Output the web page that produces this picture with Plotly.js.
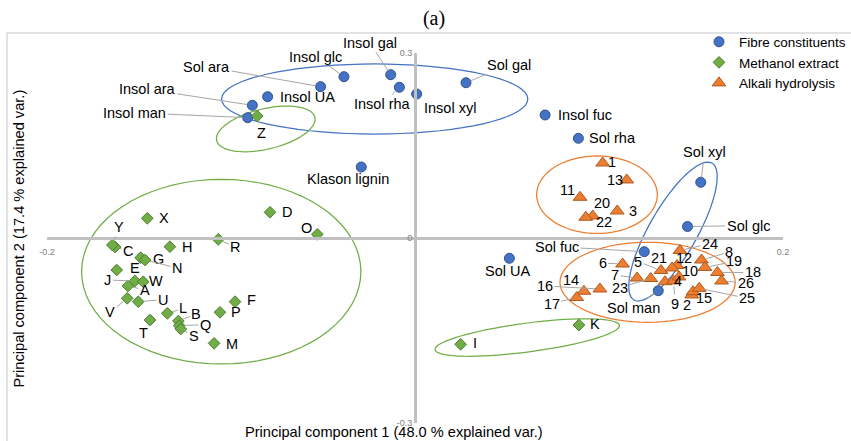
<!DOCTYPE html>
<html>
<head>
<meta charset="utf-8">
<script src="https://cdn.plot.ly/plotly-3.0.1.min.js"></script>
<style>html,body{margin:0;padding:0;background:#fff;}#chart{width:851px;height:441px;}</style>
</head>
<body>
<div id="chart"></div>
<script>
// ---------------- DATA ----------------
const fibreNames = ['Insol man','Insol ara','Insol UA','Sol ara','Insol glc','Insol gal','Insol rha','Insol xyl','Sol gal','Klason lignin','Insol fuc','Sol rha','Sol xyl','Sol glc','Sol fuc','Sol UA','Sol man'];
const fibrePC1 = [-0.0909,-0.0884,-0.0801,-0.0513,-0.0386,-0.0132,-0.0085,0.0009,0.0277,-0.0292,0.0707,0.0888,0.1553,0.1481,0.1246,0.0513,0.1322];
const fibrePC2 = [0.1951,0.2152,0.2291,0.2454,0.2616,0.2648,0.2444,0.2335,0.2518,0.1151,0.1995,0.1617,0.0903,0.0186,-0.0222,-0.0329,-0.0855];

const methanolNames = ['A','B','C','D','E','F','G','H','I','J','K','L','M','N','O','P','Q','R','S','T','U','V','W','X','Y','Z'];
const methanolPC1 = [-0.1560,-0.1286,-0.1630,-0.0788,-0.1621,-0.0978,-0.1491,-0.1332,0.0248,-0.1522,0.0891,-0.1346,-0.1092,-0.1467,-0.0531,-0.1060,-0.1281,-0.1069,-0.1273,-0.1440,-0.1504,-0.1564,-0.1477,-0.1455,-0.1645,-0.0857];
const methanolPC2 = [-0.0778,-0.1346,-0.0146,0.0417,-0.0519,-0.1033,-0.0319,-0.0141,-0.1724,-0.0697,-0.1411,-0.1221,-0.1708,-0.0357,0.0060,-0.1205,-0.1422,-0.0021,-0.1476,-0.1330,-0.1033,-0.0978,-0.0709,0.0319,-0.0114,0.1978];

const alkaliNames = ['1','2','3','4','5','6','7','8','9','10','11','12','13','14','15','16','17','18','19','20','21','22','23','24','25','26'];
const alkaliPC1 = [0.1020,0.1504,0.1099,0.1359,0.1337,0.1128,0.1207,0.1557,0.1404,0.1435,0.0897,0.1424,0.1151,0.0918,0.1511,0.1005,0.0879,0.1644,0.1576,0.0966,0.1397,0.0928,0.1281,0.1440,0.1545,0.1666];
const alkaliPC2 = [0.1216,-0.0924,0.0438,-0.0709,-0.0527,-0.0422,-0.0649,-0.0357,-0.0697,-0.0632,0.0660,-0.0446,0.0941,-0.0864,-0.0871,-0.0827,-0.0965,-0.0559,-0.0478,0.0357,-0.0486,0.0336,-0.0657,-0.0203,-0.0816,-0.0697];

const seriesNames = ['Fibre constituents','Methanol extract','Alkali hydrolysis'];
const xTickVals = [-0.2, 0.2];
const xTickText = ['-0.2', '0.2'];
const yTickVals = [-0.3, 0, 0.3];
const yTickText = ['-0.3', '0', '0.3'];
const xTitle = 'Principal component 1 (48.0 % explained var.)';
const yTitle = 'Principal component 2 (17.4 % explained var.)';
const chartTitle = '(a)';

// ---------------- LABEL PLACEMENT (pixel offsets, leader flag) ----------------
const fibreLabelPos = [[-113,-5,1],[-105,-16,1],[40,0,0],[-114,-20,1],[-28,-20,1],[-21,-32,1],[-17,17,1],[33,14,0],[43,-18,1],[-13,12,0],[40,0,0],[34,0,0],[4,-30,1],[61,-1,1],[-87,-5,1],[-2,13,0],[-25,17,1]];
const methanolLabelPos = [[17,4,1],[18,-7,1],[13,4,1],[17,0,0],[18,-2,0],[16,-2,0],[18,1,0],[17,0,0],[14,-1,0],[-27,-1,1],[16,-1,0],[16,-5,1],[18,1,0],[32,8,1],[-11,-6,0],[16,0,0],[26,-1,1],[17,8,1],[13,7,1],[-7,13,1],[25,-2,1],[-17,14,1],[13,-1,0],[17,0,0],[7,-18,1],[4,17,1]];
const alkaliLabelPos = [[9,-1,0],[-5,10,0],[16,0,0],[13,-1,0],[-23,-9,1],[-20,-1,1],[-22,-3,1],[28,-8,1],[2,23,1],[11,-6,0],[-13,-7,0],[7,-8,1],[-12,0,0],[-13,-11,0],[11,6,0],[-55,-3,1],[-25,6,1],[35,0,1],[29,-6,1],[9,-13,0],[-13,-10,1],[18,5,0],[-31,9,1],[30,-7,1],[48,10,1],[24,2,1]];

// ---------------- ELLIPSES (centre, two conjugate semi-axis vectors, data units) ----------------
const ellipses = [
  {c:[-0.0219,0.2254], u:[0.0832,0], v:[0,0.0568], color:'#4472c4'},
  {c:[0.1402,0.0105], u:[0.0212,0.1110], v:[-0.01133,0.01928], color:'#4472c4'},
  {c:[-0.0811,0.1769], u:[0.0267,0.01884], v:[-0.00253,0.03188], color:'#70ad47'},
  {c:[-0.1053,-0.0546], u:[0.0759,0], v:[0,0.1497], color:'#70ad47'},
  {c:[0.0610,-0.1614], u:[0.0501,0.01969], v:[-0.00102,0.02315], color:'#70ad47'},
  {c:[0.0989,0.0702], u:[0.0328,0], v:[0,0.0628], color:'#ed7d31'},
  {c:[0.1264,-0.0718], u:[0.0476,0], v:[0,0.0649], color:'#ed7d31'}
];

function ellipsePath(e){
  let p = '';
  const n = 72;
  for (let i = 0; i <= n; i++){
    const t = 2*Math.PI*i/n;
    const x = e.c[0] + e.u[0]*Math.cos(t) + e.v[0]*Math.sin(t);
    const y = e.c[1] + e.u[1]*Math.cos(t) + e.v[1]*Math.sin(t);
    p += (i === 0 ? 'M' : 'L') + x.toFixed(5) + ',' + y.toFixed(5);
  }
  return p + 'Z';
}

const FONT = 'Liberation Sans, Arial, sans-serif';

const traces = [
  {type:'scatter', mode:'markers', name:seriesNames[0], x:fibrePC1, y:fibrePC2, text:fibreNames,
   marker:{symbol:'circle', size:10, color:'#4472c4', line:{color:'#2f528f', width:1}}, cliponaxis:false},
  {type:'scatter', mode:'markers', name:seriesNames[1], x:methanolPC1, y:methanolPC2, text:methanolNames,
   marker:{symbol:'diamond', size:9, color:'#70ad47', line:{color:'#507e32', width:1}}, cliponaxis:false},
  {type:'scatter', mode:'markers', name:seriesNames[2], x:alkaliPC1, y:alkaliPC2, text:alkaliNames,
   marker:{symbol:'triangle-up', size:12, color:'#ed7d31', line:{color:'#ae5a21', width:1}}, cliponaxis:false}
];

const annotations = [];
function addLabels(names, xs, ys, pos){
  names.forEach((nm, i) => {
    annotations.push({
      x: xs[i], y: ys[i], xref:'x', yref:'y', text: nm,
      showarrow: true, ax: pos[i][0], ay: pos[i][1],
      arrowhead: 0, arrowwidth: 1, standoff: 5,
      arrowcolor: pos[i][2] ? '#a6a6a6' : 'rgba(0,0,0,0)',
      font: {family: FONT, size: 14.5, color: '#000000'}
    });
  });
}
addLabels(fibreNames, fibrePC1, fibrePC2, fibreLabelPos);
addLabels(methanolNames, methanolPC1, methanolPC2, methanolLabelPos);
addLabels(alkaliNames, alkaliPC1, alkaliPC2, alkaliLabelPos);

annotations.push({text: xTitle, xref:'paper', yref:'paper', x:0.4721, y:-0.024, xanchor:'center', yanchor:'middle', showarrow:false,
  font:{family:FONT, size:14.6, color:'#000'}});
annotations.push({text: yTitle, xref:'paper', yref:'paper', x:-0.0374, y:0.5, xanchor:'center', yanchor:'middle', textangle:-90, showarrow:false,
  font:{family:FONT, size:14.6, color:'#000'}});

const shapes = ellipses.map(e => ({type:'path', xref:'x', yref:'y', path: ellipsePath(e), line:{color:e.color, width:1.25}, fillcolor:'rgba(0,0,0,0)', layer:'below'}));
shapes.push({type:'rect', xref:'paper', yref:'paper', x0:-0.0543, x1:1.12, y0:-0.08, y1:1.054, line:{color:'#d9d9d9', width:1.5}, layer:'below'});

const layout = {
  width: 851, height: 441,
  margin: {l:47, r:68, t:53, b:18, autoexpand:false},
  paper_bgcolor:'#ffffff', plot_bgcolor:'rgba(0,0,0,0)',
  title: {text: chartTitle, font:{family:'Liberation Serif, Times New Roman, serif', size:20, color:'#000'},
          x: 434/851, xanchor:'center', xref:'container', y: 1 - 17.5/441, yanchor:'middle', yref:'container'},
  xaxis: {range:[-0.2,0.2], anchor:'free', position:0.5, showline:true, linecolor:'#c0c0c0', linewidth:3,
          showgrid:false, zeroline:false, tickvals:xTickVals, ticktext:xTickText, ticks:'',
          tickfont:{family:FONT, size:9, color:'#808080'}, ticklabelstandoff:4, automargin:false},
  yaxis: {range:[-0.3,0.3], anchor:'free', position:0.5, showline:true, linecolor:'#c0c0c0', linewidth:3,
          showgrid:false, zeroline:false, tickvals:yTickVals, ticktext:yTickText, ticks:'',
          tickfont:{family:FONT, size:9, color:'#808080'}, automargin:false},
  showlegend: true,
  legend: {x:1.0924, xanchor:'right', y:1.0716, yanchor:'top', bgcolor:'rgba(0,0,0,0)',
           font:{family:FONT, size:13.5, color:'#000'}, tracegroupgap:0, itemwidth:30},
  annotations: annotations,
  shapes: shapes
};

Plotly.newPlot('chart', traces, layout, {displayModeBar:false, staticPlot:true});
</script>
</body>
</html>
